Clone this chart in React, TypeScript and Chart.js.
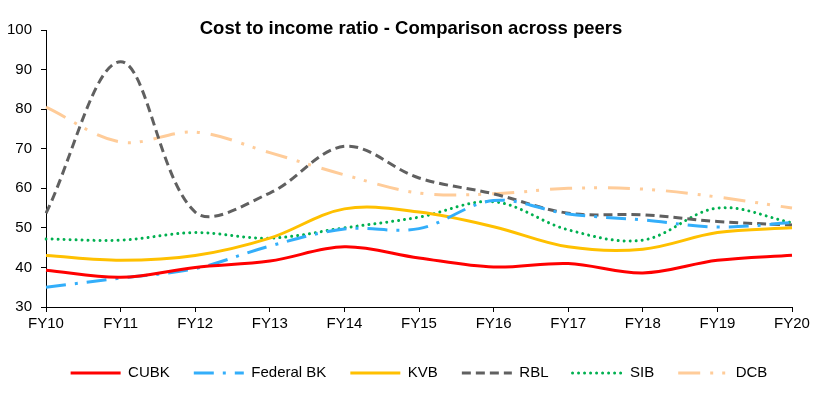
import React, { useEffect, useRef } from "react";
import { Chart, registerables } from "chart.js";

Chart.register(...registerables);

const title = "Cost to income ratio - Comparison across peers";
const categories = ["FY10", "FY11", "FY12", "FY13", "FY14", "FY15", "FY16", "FY17", "FY18", "FY19", "FY20"];
const cubk = [39.3, 37.5, 40.0, 41.6, 45.2, 42.4, 40.1, 41.0, 38.6, 41.8, 43.1];
const federalBk = [35.0, 37.3, 39.7, 45.4, 49.7, 49.8, 56.9, 53.5, 52.0, 50.2, 51.3];
const kvb = [43.0, 41.8, 43.0, 47.4, 54.8, 54.0, 50.3, 45.2, 44.6, 48.8, 50.0];
const rbl = [53.7, 92.0, 54.0, 58.8, 70.6, 62.6, 58.6, 53.7, 53.3, 51.6, 50.7];
const sib = [47.2, 46.9, 48.8, 47.4, 50.0, 52.7, 56.6, 49.5, 46.9, 55.0, 51.3];
const dcb = [80.5, 71.7, 74.2, 69.0, 63.4, 58.8, 58.6, 60.0, 59.8, 57.8, 55.0];
const yTicks = { min: 30, max: 100, step: 10 };

const FONT = "'Liberation Sans', Arial, sans-serif";

export default function App() {
  const ref = useRef<HTMLCanvasElement | null>(null);
  useEffect(() => {
    document.body.style.margin = "0";
    const titlePlugin = {
      id: "fixedTitle",
      afterDraw(chart: any) {
        const ctx = chart.ctx;
        ctx.save();
        ctx.font = `bold 18.5px ${FONT}`;
        ctx.fillStyle = "#000";
        ctx.textAlign = "center";
        ctx.textBaseline = "alphabetic";
        ctx.fillText(title, 411, 34);
        ctx.restore();
      },
    };
    const mk = (label: string, data: number[], color: string, dash: number[], width = 3, cap = "butt") => ({
      label,
      data,
      borderColor: color,
      backgroundColor: color,
      borderWidth: width,
      borderDash: dash,
      borderCapStyle: cap,
      pointRadius: 0,
      pointHoverRadius: 0,
      tension: 0.35,
      fill: false,
    });
    const chart = new Chart(ref.current as HTMLCanvasElement, {
      type: "line",
      data: {
        labels: categories,
        datasets: [
          mk("CUBK", cubk, "#FF0000", []),
          mk("Federal BK", federalBk, "#33AEFA", [20, 9, 3, 9]),
          mk("KVB", kvb, "#FFC000", []),
          mk("RBL", rbl, "#606060", [9, 5]),
          mk("SIB", sib, "#00B050", [0.01, 6], 3, "round"),
          mk("DCB", dcb, "#FFCC99", [22, 10, 3, 9, 3, 11]),
        ],
      },
      options: {
        responsive: false,
        animation: false,
        layout: { padding: { top: 30, left: 7, right: 40, bottom: 5.5 } },
        plugins: {
          title: { display: false },
          tooltip: { enabled: false },
          legend: {
            position: "bottom",
            align: "center",
            fullSize: false,
            labels: {
              usePointStyle: true,
              pointStyle: "line",
              pointStyleWidth: 50,
              padding: 24,
              color: "#000",
              font: { family: FONT, size: 15 },
              generateLabels: (c: any) =>
                c.data.datasets.map((ds: any, i: number) => ({
                  text: ds.label,
                  fillStyle: ds.borderColor,
                  strokeStyle: ds.borderColor,
                  lineWidth: ds.borderWidth,
                  lineDash: ds.borderDash,
                  lineCap: ds.borderCapStyle,
                  pointStyle: "line",
                  fontColor: "#000",
                  hidden: false,
                  datasetIndex: i,
                })),
            },
          },
        },
        scales: {
          x: {
            offset: false,
            afterFit: (s: any) => {
              s.height = 34.5;
            },
            border: { display: true, color: "#000", width: 1 },
            grid: { display: true, drawOnChartArea: false, drawTicks: true, tickLength: 5, color: "#000" },
            ticks: { color: "#000", padding: 3, font: { family: FONT, size: 15 }, maxRotation: 0 },
          },
          y: {
            min: yTicks.min,
            max: yTicks.max,
            afterFit: (s: any) => {
              s.width = 39;
            },
            border: { display: true, color: "#000", width: 1 },
            grid: { display: true, drawOnChartArea: false, drawTicks: true, tickLength: 5, color: "#000" },
            ticks: { stepSize: yTicks.step, color: "#000", padding: 9, font: { family: FONT, size: 15 } },
          },
        },
      },
      plugins: [titlePlugin],
    });
    return () => chart.destroy();
  }, []);
  return (
    <div style={{ width: 832, height: 396 }}>
      <canvas ref={ref} width={832} height={396} />
    </div>
  );
}
